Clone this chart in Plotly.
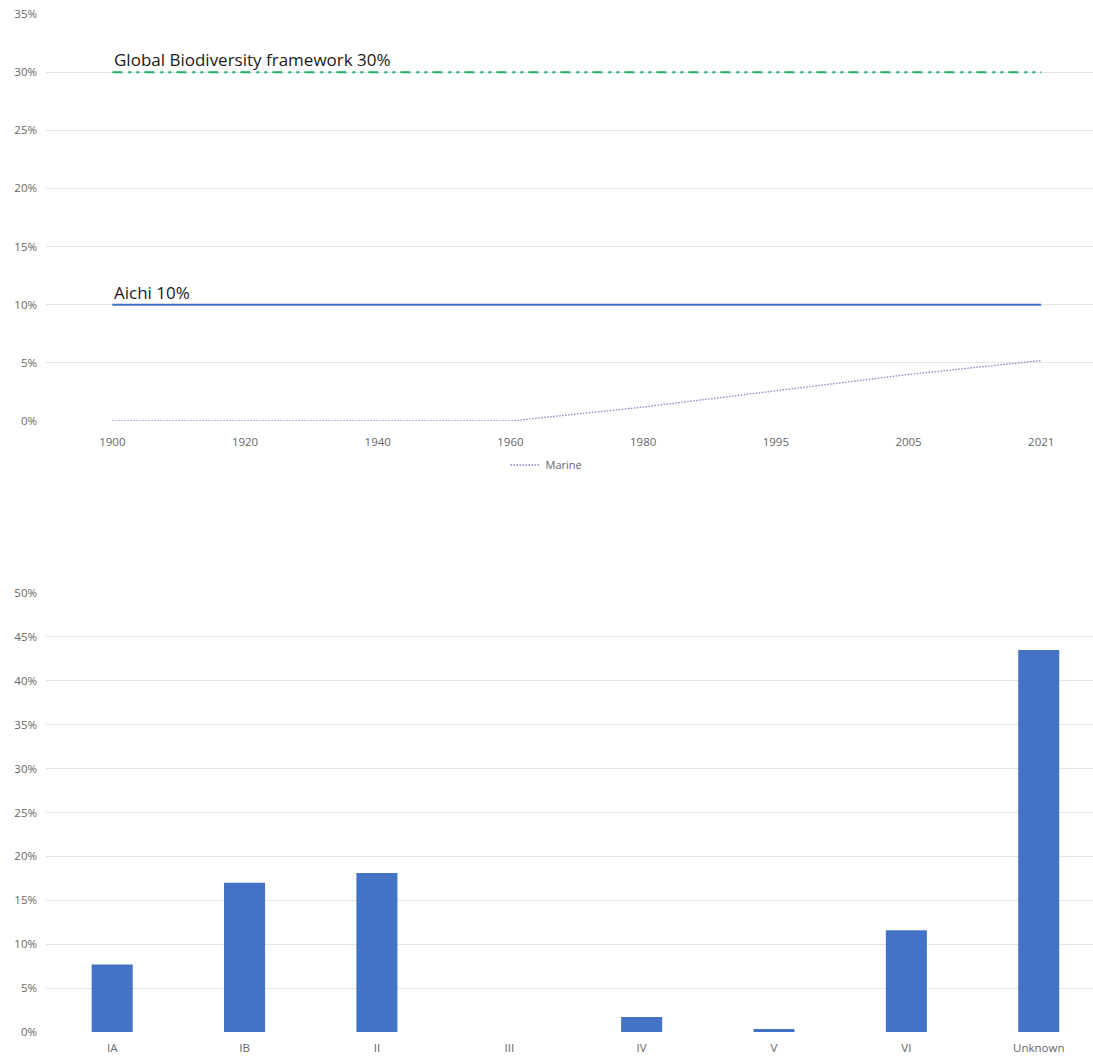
import plotly.graph_objects as go

# ---- Data ----
years = ["1900", "1920", "1940", "1960", "1980", "1995", "2005", "2021"]
marine = [0.0, 0.0, 0.0, 0.0, 0.012, 0.026, 0.040, 0.052]
aichi = [0.10, 0.10, 0.10, 0.10, 0.10, 0.10, 0.10, 0.10]
gbf = [0.30, 0.30, 0.30, 0.30, 0.30, 0.30, 0.30, 0.30]

categories = ["IA", "IB", "II", "III", "IV", "V", "VI", "Unknown"]
shares = [0.077, 0.170, 0.181, 0.0, 0.017, 0.0035, 0.116, 0.435]

W, H = 1093, 1056
def py(px):
    return 1 - px / H

fig = go.Figure()

fig.add_trace(go.Scatter(x=years, y=gbf, mode="lines", showlegend=False,
                         line=dict(color="#1DB063", width=2, dash="10px,6px,3px,5px,3px,5px"),
                         xaxis="x", yaxis="y", hoverinfo="skip"))
fig.add_trace(go.Scatter(x=years, y=aichi, mode="lines", showlegend=False,
                         line=dict(color="#4472C4", width=2),
                         xaxis="x", yaxis="y", hoverinfo="skip"))
fig.add_trace(go.Scatter(x=years, y=marine, mode="lines", name="Marine",
                         line=dict(color="#8088C4", width=1.3, dash="1.5px,1.5px"),
                         xaxis="x", yaxis="y"))

fig.add_trace(go.Bar(x=categories, y=shares, marker=dict(color="#4472C4", line=dict(width=0)),
                     width=0.31, showlegend=False, xaxis="x2", yaxis="y2"))

tickfont = dict(family="Open Sans, sans-serif", size=11.5, color="#666666")
grid = "#E3E3E3"
xl = 46 / W

xcommon = dict(showgrid=False, zeroline=False, showline=False, ticks="outside",
               tickcolor="rgba(0,0,0,0)", tickfont=tickfont,
               type="category", automargin=False)
ycommon = dict(dtick=0.05, tickformat=".0%", gridcolor=grid, gridwidth=1,
               zeroline=False, showline=False, tickfont=tickfont,
               ticklabelstandoff=8, automargin=False)

fig.update_layout(
    width=W, height=H,
    margin=dict(l=0, r=0, t=0, b=0, autoexpand=False),
    paper_bgcolor="white", plot_bgcolor="white",
    xaxis=dict(domain=[xl, 1.0], range=[-0.5, 7.39], anchor="y", ticklen=10, **xcommon),
    yaxis=dict(domain=[py(421), py(14)], range=[0, 0.35], anchor="x", **ycommon),
    xaxis2=dict(domain=[xl, 1.0], range=[-0.5, 7.41], anchor="y2", ticklen=5, **xcommon),
    yaxis2=dict(domain=[py(1032), py(593)], range=[0, 0.5], anchor="x2", **ycommon),
    legend=dict(orientation="h", x=0.5, xanchor="center", y=py(465), yanchor="middle",
                font=dict(family="Open Sans, sans-serif", size=11, color="#666666"),
                bgcolor="rgba(0,0,0,0)"),
    showlegend=True,
    annotations=[
        dict(text="Global Biodiversity framework 30%", x=0, xref="x", y=0.30, yref="y",
             xanchor="left", yanchor="bottom", showarrow=False, xshift=0, yshift=-1,
             font=dict(family="Open Sans, sans-serif", size=17, color="#1a1a1a")),
        dict(text="Aichi 10%", x=0, xref="x", y=0.10, yref="y",
             xanchor="left", yanchor="bottom", showarrow=False, xshift=0, yshift=-1,
             font=dict(family="Open Sans, sans-serif", size=17, color="#1a1a1a")),
    ],
)

fig.write_html("out.html")
